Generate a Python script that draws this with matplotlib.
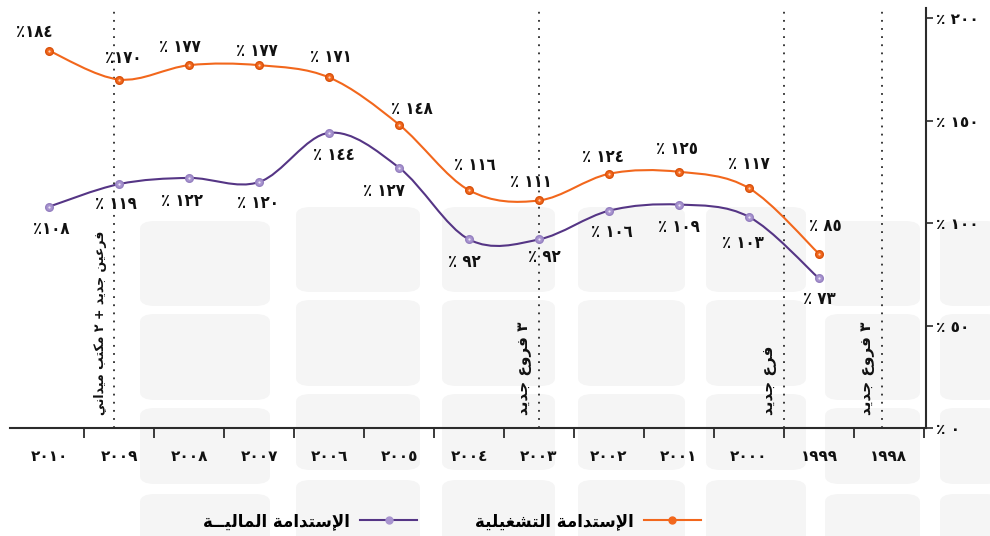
import numpy as np
import matplotlib
matplotlib.use('Agg')
import matplotlib.pyplot as plt
from matplotlib.path import Path
from matplotlib.patches import PathPatch, FancyBboxPatch
from matplotlib.lines import Line2D

# ---- data ----
years = [2010, 2009, 2008, 2007, 2006, 2005, 2004, 2003, 2002, 2001, 2000, 1999, 1998]
operational = [184, 170, 177, 177, 171, 148, 116, 111, 124, 125, 117, 85]
financial = [108, 119, 122, 120, 144, 127, 92, 92, 106, 109, 103, 73]
ytick_values = [0, 50, 100, 150, 200]

name_operational = 'الإستدامة التشغيلية'
name_financial = 'الإستدامة الماليــة'
events = ['فرعين جديد + ٢ مكتب ميداني', '٣ فروع جديد', 'فرع جديد', '٣ فروع جديد']
event_x = [0.93, 7.0, 10.5, 11.9]
event_size = [9, 11, 11, 11]

# label nudges in pixels (dx, dy)
op_nudge = [(-15, 19), (4, 22), (-9, 18), (-2, 14), (2, 20), (13, 16),
            (6, 25), (-8, 18), (-6, 17), (-2, 23), (0, 24), (6, 28)]
fin_nudge = [(2, -22), (-3, -20), (-7, -23), (-1, -21), (5, -22), (-15, -23),
             (-5, -23), (5, -18), (3, -21), (0, -22), (-6, -26), (0, -21)]

ORANGE = '#f2671c'
PURPLE = '#553585'
PURPLE_MK = '#a894cf'
DARK = '#2b2b2b'

# ---- minimal arabic shaping (matplotlib draws glyphs left to right, unshaped) ----
FORMS = {
    'ا': ('\uFE8D', '\uFE8E', None, None),
    'إ': ('\uFE87', '\uFE88', None, None),
    'ب': ('\uFE8F', '\uFE90', '\uFE91', '\uFE92'),
    'ة': ('\uFE93', '\uFE94', None, None),
    'ت': ('\uFE95', '\uFE96', '\uFE97', '\uFE98'),
    'ج': ('\uFE9D', '\uFE9E', '\uFE9F', '\uFEA0'),
    'د': ('\uFEA9', '\uFEAA', None, None),
    'ر': ('\uFEAD', '\uFEAE', None, None),
    'س': ('\uFEB1', '\uFEB2', '\uFEB3', '\uFEB4'),
    'ش': ('\uFEB5', '\uFEB6', '\uFEB7', '\uFEB8'),
    'ع': ('\uFEC9', '\uFECA', '\uFECB', '\uFECC'),
    'غ': ('\uFECD', '\uFECE', '\uFECF', '\uFED0'),
    'ف': ('\uFED1', '\uFED2', '\uFED3', '\uFED4'),
    'ك': ('\uFED9', '\uFEDA', '\uFEDB', '\uFEDC'),
    'ل': ('\uFEDD', '\uFEDE', '\uFEDF', '\uFEE0'),
    'م': ('\uFEE1', '\uFEE2', '\uFEE3', '\uFEE4'),
    'ن': ('\uFEE5', '\uFEE6', '\uFEE7', '\uFEE8'),
    'و': ('\uFEED', '\uFEEE', None, None),
    'ي': ('\uFEF1', '\uFEF2', '\uFEF3', '\uFEF4'),
    'ـ': ('ـ', 'ـ', 'ـ', 'ـ'),
    'لإ': ('\uFEF9', '\uFEFA', None, None),
    'لا': ('\uFEFB', '\uFEFC', None, None),
}


def shape(text):
    toks = []
    i = 0
    while i < len(text):
        if text[i] == 'ل' and i + 1 < len(text) and text[i + 1] in 'اإ':
            toks.append(text[i:i + 2])
            i += 2
        else:
            toks.append(text[i])
            i += 1
    out = []
    for k, t in enumerate(toks):
        if t not in FORMS:
            out.append(t)
            continue
        prev = toks[k - 1] if k > 0 else None
        nxt = toks[k + 1] if k + 1 < len(toks) else None
        pj = prev in FORMS and FORMS[prev][2] is not None
        nj = nxt in FORMS and FORMS[t][2] is not None
        f = FORMS[t]
        if pj and nj:
            out.append(f[3])
        elif pj:
            out.append(f[1])
        elif nj:
            out.append(f[2])
        else:
            out.append(f[0])
    return ''.join(reversed(out))


def ar_num(n):
    return ''.join(chr(0x0660 + int(d)) for d in str(n))


def smooth_path(xs, ys):
    pts = np.column_stack([xs, ys]).astype(float)
    ext = np.vstack([pts[0], pts, pts[-1]])
    verts = [pts[0]]
    codes = [Path.MOVETO]
    for i in range(len(pts) - 1):
        p0, p1, p2, p3 = ext[i], ext[i + 1], ext[i + 2], ext[i + 3]
        verts += [p1 + (p2 - p0) / 6.0, p2 - (p3 - p1) / 6.0, p2]
        codes += [Path.CURVE4] * 3
    return Path(verts, codes)


plt.rcParams['font.family'] = ['DejaVu Sans']

W, H = 990, 536
fig = plt.figure(figsize=(9.9, 5.36), dpi=100)

# faint background tile pattern (decoration), figure pixels from top-left
bg_cols = [(140, 270), (296, 420), (442, 555), (578, 685), (706, 806), (825, 920), (940, 1000)]
bg_rows = [(207, 292), (300, 386), (394, 470), (480, 545)]
for ci, (x0, x1) in enumerate(bg_cols):
    for ri, (y0, y1) in enumerate(bg_rows):
        shift = 14 if ci in (0, 5, 6) else 0
        y0s, y1s = y0 + shift, y1 + shift
        fig.patches.append(FancyBboxPatch(
            (x0 / W, 1 - y1s / H), (x1 - x0) / W, (y1s - y0s) / H,
            boxstyle='round,pad=0,rounding_size=0.015', transform=fig.transFigure,
            fc='#f5f5f5', ec='none', zorder=-5))

ax = fig.add_axes([10 / W, (H - 428) / H, (926 - 10) / W, (428 - 8) / H])
ax.set_xlim(-0.56, 12.53)
ax.set_ylim(0, 204.9)

xs = np.arange(len(operational))

for x in event_x:
    ax.axvline(x, color=DARK, ls=(0, (1, 3.5)), lw=1.3, zorder=1)

ax.add_patch(PathPatch(smooth_path(xs, operational), fill=False, ec=ORANGE, lw=1.5, zorder=3))
ax.add_patch(PathPatch(smooth_path(xs, financial), fill=False, ec=PURPLE, lw=1.5, zorder=3))
ax.plot(xs, operational, ls='none', marker='o', ms=5.5, mfc=ORANGE, mec='#d9520c', mew=1, zorder=4)
ax.plot(xs, operational, ls='none', marker='o', ms=1.6, mfc='#ffd3b8', mec='none', zorder=5)
ax.plot(xs, financial, ls='none', marker='o', ms=5.5, mfc=PURPLE_MK, mec='#9580c0', mew=1, zorder=4)
ax.plot(xs, financial, ls='none', marker='o', ms=1.6, mfc='#ece6f7', mec='none', zorder=5)

lab_kw = dict(textcoords='offset points', ha='center', va='center', fontsize=12,
              fontweight='bold', fontstretch='condensed', color='#111111', zorder=6)
for i, v in enumerate(operational):
    sep = '' if i < 2 else ' '
    ax.annotate('٪' + sep + ar_num(v), (xs[i], v),
                xytext=(op_nudge[i][0] * 0.72, op_nudge[i][1] * 0.72), **lab_kw)
for i, v in enumerate(financial):
    sep = '' if i == 0 else ' '
    ax.annotate('٪' + sep + ar_num(v), (xs[i], v),
                xytext=(fin_nudge[i][0] * 0.72, fin_nudge[i][1] * 0.72), **lab_kw)

for x, t, fs in zip(event_x, events, event_size):
    ax.text(x - 0.1, 6.5, shape(t), rotation=90, ha='right', va='bottom',
            fontsize=fs, fontweight='bold', color='#111111', zorder=6)

# axes styling
for s in ['top', 'left']:
    ax.spines[s].set_visible(False)
for s in ['bottom', 'right']:
    ax.spines[s].set_color(DARK)
    ax.spines[s].set_linewidth(1.5)
ax.patch.set_alpha(0)

ax.yaxis.tick_right()
ax.set_yticks(ytick_values)
ax.set_yticklabels(['٪ ' + ar_num(v) for v in ytick_values], fontsize=11,
                   fontweight='bold', color='#111111')
ax.tick_params(axis='y', direction='out', length=5, width=1.2, color=DARK, pad=2)

ax.set_xticks(np.arange(0.5, len(years), 1.0))
ax.set_xticklabels([])
ax.tick_params(axis='x', which='major', direction='out', length=7, width=1.3, color=DARK)
ax.set_xticks(np.arange(len(years)), minor=True)
ax.set_xticklabels([ar_num(y) for y in years], minor=True, fontsize=11,
                   fontweight='bold', color='#111111')
ax.tick_params(axis='x', which='minor', length=0, pad=15)

handles = [Line2D([], [], color=PURPLE, lw=1.5, marker='o', ms=5, mfc=PURPLE_MK, mec=PURPLE_MK),
           Line2D([], [], color=ORANGE, lw=1.5, marker='o', ms=5, mfc=ORANGE, mec=ORANGE)]
fig.legend(handles, [shape(name_financial), shape(name_operational)], loc='center',
           bbox_to_anchor=(452 / W, 1 - 521 / H), ncol=2, frameon=False,
           markerfirst=False, handlelength=3.4, columnspacing=3.5, handletextpad=0.6,
           prop={'size': 12, 'weight': 'bold'})

fig.savefig('out.png', dpi=100)
